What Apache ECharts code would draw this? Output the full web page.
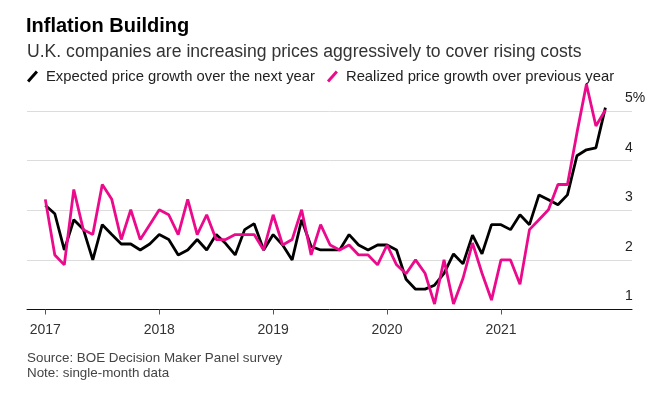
<!DOCTYPE html>
<html>
<head>
<meta charset="utf-8">
<script src="https://cdn.jsdelivr.net/npm/echarts@6/dist/echarts.min.js"></script>
<style>
  html, body { margin: 0; padding: 0; background: #fff; }
  #chart { width: 667px; height: 396px; }
</style>
</head>
<body>
<div id="chart"></div>
<script>
// monthly, Jan 2017 .. Dec 2021 (index 0..59)
const years = ['2017', '2018', '2019', '2020', '2021']
const yearTicks = [0, 12, 24, 36, 48]
const valueTicks = [1, 2, 3, 4, 5]

const expected = [
  3.1, 2.93, 2.2, 2.81, 2.62, 2.0, 2.71, 2.51, 2.32, 2.32, 2.2, 2.32,
  2.51, 2.41, 2.1, 2.2, 2.41, 2.2, 2.51, 2.33, 2.1, 2.61, 2.73, 2.2,
  2.51, 2.3, 2.0, 2.81, 2.27, 2.2, 2.2, 2.2, 2.51, 2.3, 2.2, 2.3,
  2.3, 2.2, 1.61, 1.41, 1.41, 1.49, 1.73, 2.12, 1.92, 2.5, 2.12, 2.71,
  2.71, 2.61, 2.91, 2.71, 3.31, 3.21, 3.11, 3.31, 4.1, 4.22, 4.26, 5.07
]
const realized = [
  3.22, 2.1, 1.9, 3.42, 2.61, 2.51, 3.52, 3.22, 2.41, 3.01, 2.41, 2.71,
  3.01, 2.91, 2.51, 3.22, 2.51, 2.91, 2.41, 2.41, 2.51, 2.51, 2.51, 2.2,
  2.91, 2.3, 2.41, 3.01, 2.1, 2.71, 2.3, 2.2, 2.3, 2.1, 2.1, 1.9,
  2.3, 1.9, 1.72, 2.0, 1.73, 1.11, 2.0, 1.11, 1.63, 2.34, 1.73, 1.19,
  2.0, 2.0, 1.51, 2.61, 2.81, 3.01, 3.52, 3.52, 4.56, 5.54, 4.7, 5.02
]

const FONT = '"Liberation Sans", Arial, sans-serif'
const PINK = '#ec0a8c'
const SLASH = 'path://M8.8,0 L11,1.9 L2.2,12 L0,10.1 Z'

const chart = echarts.init(document.getElementById('chart'), null, { renderer: 'canvas' })

chart.setOption({
  animation: false,
  backgroundColor: '#fff',
  textStyle: { fontFamily: FONT },
  title: [
    {
      text: 'Inflation Building',
      left: 26, top: 16, padding: 0,
      textStyle: { fontSize: 20, fontWeight: 'bold', color: '#000', fontFamily: FONT }
    },
    {
      text: 'U.K. companies are increasing prices aggressively to cover rising costs',
      left: 27, top: 43, padding: 0,
      textStyle: { fontSize: 17.6, fontWeight: 'normal', color: '#333', fontFamily: FONT }
    }
  ],
  legend: {
    left: 27, top: 69, padding: 0,
    itemWidth: 11, itemHeight: 12, itemGap: 12,
    textStyle: { fontSize: 14.8, color: '#222', fontFamily: FONT, padding: [0, 0, 0, 3] },
    data: [
      { name: 'Expected price growth over the next year', icon: SLASH },
      { name: 'Realized price growth over previous year', icon: SLASH }
    ]
  },
  grid: { left: 27, right: 35, top: 81.3, bottom: 86.5, containLabel: false },
  xAxis: {
    type: 'value',
    min: -1.93, max: 61.8,
    axisLine: { show: true, lineStyle: { color: '#111', width: 1 } },
    axisTick: {
      show: true, length: 5, inside: false,
      customValues: yearTicks,
      lineStyle: { color: '#555', width: 1 }
    },
    axisLabel: {
      customValues: yearTicks,
      margin: 14,
      fontSize: 14, color: '#333', fontFamily: FONT,
      formatter: v => years[yearTicks.indexOf(v)] || ''
    },
    splitLine: { show: false }
  },
  yAxis: {
    type: 'value',
    position: 'right',
    min: 1, max: 5.6,
    axisLine: { show: false },
    axisTick: { show: false },
    axisLabel: {
      customValues: valueTicks,
      inside: true, align: 'left', verticalAlign: 'bottom',
      margin: 7, padding: [0, 0, 6, 0],
      fontSize: 14, color: '#222', fontFamily: FONT,
      formatter: v => v === 5 ? '5%' : String(v)
    },
    splitLine: {
      show: true, showMinLine: false, showMaxLine: false,
      lineStyle: { color: '#dcdcdc', width: 1 }
    }
  },
  series: [
    {
      name: 'Expected price growth over the next year',
      type: 'line',
      data: expected.map((v, i) => [i, v]),
      showSymbol: false,
      color: '#000',
      lineStyle: { color: '#000', width: 2.8 },
      z: 2
    },
    {
      name: 'Realized price growth over previous year',
      type: 'line',
      data: realized.map((v, i) => [i, v]),
      showSymbol: false,
      color: PINK,
      lineStyle: { color: PINK, width: 2.8 },
      z: 3
    }
  ],
  graphic: [
    {
      type: 'text', left: 27, top: 352,
      style: { text: 'Source: BOE Decision Maker Panel survey', fontSize: 13.4, fill: '#444', fontFamily: FONT }
    },
    {
      type: 'text', left: 27, top: 367,
      style: { text: 'Note: single-month data', fontSize: 13.4, fill: '#444', fontFamily: FONT }
    }
  ]
})
</script>
</body>
</html>
